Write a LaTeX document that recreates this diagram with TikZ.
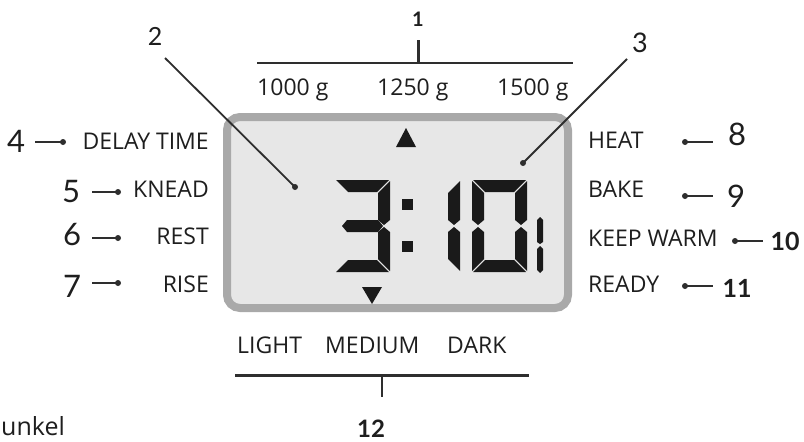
\documentclass[tikz,border=0pt]{standalone}
\usepackage{fontspec}
\setmainfont{Open Sans}
\newfontfamily\numfont{Lato}
\definecolor{txt}{HTML}{1E1E1E}
\definecolor{linec}{HTML}{2E2E2E}
\definecolor{lcdborder}{HTML}{A9A9A9}
\definecolor{lcdfill}{HTML}{E7E7E7}
\definecolor{segc}{HTML}{1A1A1A}
% seven-segment pieces (x right, y down)
\newcommand\sgA[3]{\fill[segc] ({#1+1},#3) -- ({#2-1},#3) -- ({#2-13},{#3+12}) -- ({#1+13},{#3+12}) -- cycle;}
\newcommand\sgD[3]{\fill[segc] ({#1+1},#3) -- ({#2-1},#3) -- ({#2-13},{#3-12}) -- ({#1+13},{#3-12}) -- cycle;}
\newcommand\sgB[3]{\fill[segc] (#1,{#2+1}) -- (#1,{#3-6}) -- ({#1-6},{#3-1}) -- ({#1-12},{#3-6}) -- ({#1-12},{#2+13}) -- cycle;}
\newcommand\sgC[3]{\fill[segc] ({#1-6},{#2+1}) -- (#1,{#2+6}) -- (#1,{#3-1}) -- ({#1-12},{#3-13}) -- ({#1-12},{#2+6}) -- cycle;}
\newcommand\sgF[3]{\fill[segc] (#1,{#2+1}) -- ({#1+12},{#2+13}) -- ({#1+12},{#3-6}) -- ({#1+6},{#3-1}) -- (#1,{#3-6}) -- cycle;}
\newcommand\sgE[3]{\fill[segc] ({#1+6},{#2+1}) -- ({#1+12},{#2+6}) -- ({#1+12},{#3-13}) -- (#1,{#3-1}) -- (#1,{#2+6}) -- cycle;}
\newcommand\sgG[3]{\fill[segc] ({#1+7},#3) -- ({#1+12},{#3-6}) -- ({#2-12},{#3-6}) -- ({#2-7},#3) -- ({#2-12},{#3+6}) -- ({#1+12},{#3+6}) -- cycle;}
\begin{document}
\begin{tikzpicture}[x=1pt,y=-1pt,
  lab/.style={font=\fontsize{23}{26}\selectfont, text=txt, inner sep=0pt},
  wlab/.style={font=\fontsize{23}{26}\selectfont, text=txt, inner sep=0pt},
  bignum/.style={font=\numfont\fontsize{31}{34}\selectfont, text=txt, inner sep=0pt},
  midnum/.style={font=\numfont\bfseries\fontsize{25}{28}\selectfont, text=txt, inner sep=0pt},
  dot/.style={circle, fill=linec, inner sep=0pt, minimum size=6pt},
  conn/.style={draw=linec, line width=1.8pt}]
\useasboundingbox (0,0) rectangle (804,442);
\fill[white] (0,0) rectangle (804,442);

% LCD panel
\draw[line width=8pt, draw=lcdborder, fill=lcdfill, rounded corners=13pt] (227,117) rectangle (568,308);
% arrows
\fill[segc] (396,147) -- (416,147) -- (406,128) -- cycle;
\fill[segc] (362,287) -- (382,287) -- (372,304) -- cycle;
% digit 3
\sgA{335}{390}{180}\sgB{390}{180}{226}\sgG{335}{390}{226}\sgC{390}{226}{272}\sgD{335}{390}{272}
% colon
\fill[segc] (402,199) rectangle (413,210);
\fill[segc] (402,241) rectangle (413,252);
% digit 1
\sgB{460}{180}{226}\sgC{460}{226}{272}
% digit 0
\sgA{472}{527}{180}\sgB{527}{180}{226}\sgC{527}{226}{272}\sgD{472}{527}{272}\sgE{472}{226}{272}\sgF{472}{180}{226}
% small 1
\fill[segc] (540,217) -- (543,220) -- (543,242) -- (540,244) -- (537,242) -- (537,220) -- cycle;
\fill[segc] (540,246) -- (543,249) -- (543,270) -- (540,273) -- (537,270) -- (537,249) -- cycle;

% top bracket (1)
\node[midnum, font=\numfont\bfseries\fontsize{20}{22}\selectfont, anchor=base] (n1) at (418,26) {1};
\coordinate (t1a) at (257,63);
\coordinate (t1b) at (573,63);
\coordinate (t1m) at (418,63);
\coordinate (t1t) at (418,40);
\draw[conn] (t1a) -- (t1b);
\draw[draw=linec, line width=3pt] (t1t) -- (t1m);
\node[wlab, anchor=base west] (w1) at (257,95) {1000 g};
\node[wlab, anchor=base west] (w2) at (377,95) {1250 g};
\node[wlab, anchor=base west] (w3) at (497,95) {1500 g};

% 2 and 3 callouts
\node[bignum, font=\numfont\fontsize{25}{28}\selectfont, anchor=base] (n2) at (155,45) {2};
\node[bignum, font=\numfont\fontsize{27}{30}\selectfont, anchor=base] (n3) at (640,52) {3};
\coordinate (l2) at (165,58);
\coordinate (l3) at (627,59);
\node[dot] (d2) at (295,187) {};
\node[dot] (d3) at (523,163) {};
\draw[conn] (l2) -- (d2.center);
\draw[conn] (l3) -- (d3.center);

% left labels
\node[lab, anchor=base east] (dt) at (209,149) {DELAY TIME};
\node[lab, anchor=base east] (kn) at (209,197) {KNEAD};
\node[lab, anchor=base east] (re) at (209,244) {REST};
\node[lab, anchor=base east] (ri) at (209,292) {RISE};
\node[bignum, anchor=base] (n4) at (16,152) {4};
\node[bignum, anchor=base] (n5) at (71,202) {5};
\node[bignum, anchor=base] (n6) at (72,245) {6};
\node[bignum, anchor=base] (n7) at (72,297) {7};
\coordinate (l4) at (35,142);
\coordinate (l5) at (92,192);
\coordinate (l6) at (92,238);
\coordinate (l7) at (92,283);
\node[dot] (d4) at (63,142) {};
\node[dot] (d5) at (118,192) {};
\node[dot] (d6) at (118,238) {};
\node[dot] (d7) at (118,283) {};
\draw[conn] (l4) -- (d4.center);
\draw[conn] (l5) -- (d5.center);
\draw[conn] (l6) -- (d6.center);
\draw[conn] (l7) -- (d7.center);

% right labels
\node[lab, anchor=base west] (he) at (588,148) {HEAT};
\node[lab, anchor=base west] (ba) at (588,197) {BAKE};
\node[lab, anchor=base west] (kw) at (588,246) {KEEP WARM};
\node[lab, anchor=base west] (rd) at (588,292) {READY};
\node[bignum, anchor=base] (n8) at (737,145) {8};
\node[bignum, anchor=base] (n9) at (736,207) {9};
\node[midnum, anchor=base] (n10) at (785,250) {10};
\node[midnum, anchor=base] (n11) at (737,297) {11};
\coordinate (l8) at (713,142);
\coordinate (l9) at (713,196);
\coordinate (l10) at (763,241);
\coordinate (l11) at (713,286);
\node[dot] (d8) at (685,142) {};
\node[dot] (d9) at (685,196) {};
\node[dot] (d10) at (735,241) {};
\node[dot] (d11) at (685,286) {};
\draw[conn] (d8.center) -- (l8);
\draw[conn] (d9.center) -- (l9);
\draw[conn] (d10.center) -- (l10);
\draw[conn] (d11.center) -- (l11);

% bottom bracket (12)
\node[wlab, anchor=base west] (li) at (237,353) {LIGHT};
\node[wlab, anchor=base west] (me) at (325,353) {MEDIUM};
\node[wlab, anchor=base west] (da) at (447,353) {DARK};
\coordinate (b1a) at (235,375);
\coordinate (b1b) at (529,375);
\coordinate (b1m) at (382,375);
\coordinate (b1t) at (382,397);
\draw[draw=linec, line width=3pt] (b1a) -- (b1b);
\draw[conn] (b1m) -- (b1t);
\node[midnum, font=\numfont\bfseries\fontsize{24}{26}\selectfont, anchor=base] (n12) at (371,437) {12};

% cut-off word
\node[wlab, font=\fontsize{25}{28}\selectfont, anchor=base west] (un) at (1,435) {unkel};
\end{tikzpicture}
\end{document}
